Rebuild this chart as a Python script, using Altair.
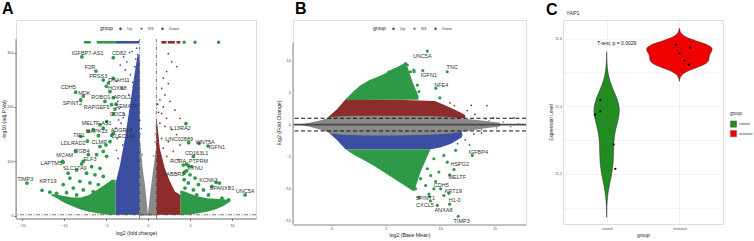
import altair as alt
import pandas as pd

FONT = "Liberation Sans"
RED, BLUE, GREY, GREEN = "#8E2B2B", "#3B4EA2", "#8A8A8A", "#2E9A47"
CTRL, RES = "#228B22", "#EE0000"

# ================= Panel A : volcano =================
A_ns_x = [-1.0, -0.95, -0.6, -0.36, -0.12, 0.0, 0.24, 0.6, 0.95, 1.0]
A_ns_top = [132, 140, 82, 57, 20, 3, 38, 82, 122, 116]

A_down_x = [-3.85, -3.33, -2.74, -2.14, -1.55, -1.19, -1.0]
A_down_top = [60, 93, 142, 203, 265, 300, 285]

A_up_x = [1.0, 1.1, 1.4, 2.0, 2.6, 3.2, 3.85]
A_up_top = [176, 170, 124, 87, 63, 44, 38]

A_fanL_x = [-11.5, -11.0, -10.0, -9.0, -8.0, -7.0, -6.0, -5.0, -4.3, -3.85]
A_fanL_lo = [37, 33, 24, 17, 11, 7, 4, 2, 1.3, 1.3]
A_fanL_hi = [39, 39, 36, 33, 33, 38, 48, 58, 66, 66]

A_fanR_x = [3.85, 4.4, 5.0, 6.0, 7.0, 8.0, 9.0, 9.8]
A_fanR_lo = [1.3, 1.3, 2, 4, 7, 11, 18, 26]
A_fanR_hi = [46, 44, 40, 35, 32, 31, 30, 28]

A_dn_sx = [-2.9, -2.5, -1.9, -1.35, -3.3, -2.7, -2.1, -1.55, -3.7, -3.1, -2.3, -1.75, -3.6, -3.4,
           -2.8, -1.6, -1.3, -3.5, -3.8, -3.2, -2.6, -2.0, -3.65, -3.0, -2.45, -1.2, -1.45, -2.2,
           -1.8, -1.25, -3.75, -3.55, -2.95]
A_dn_sy = [292, 283, 302, 308, 277, 268, 259, 274, 247, 234, 222, 237, 210, 197, 185, 204, 216,
           176, 161, 170, 155, 167, 142, 130, 139, 296, 288, 300, 245, 262, 120, 105, 180]

A_up_sx = [2.42, 2.82, 3.41, 2.22, 1.82, 2.42, 1.63, 2.02, 1.42, 2.62, 1.82, 3.21, 1.62, 2.22,
           3.81, 1.42, 2.02, 2.82, 3.41, 1.62, 2.42, 3.81, 1.82, 3.01, 2.22, 3.61, 1.25, 1.15]
A_up_sy = [298, 283, 274, 265, 253, 243, 234, 222, 213, 210, 200, 194, 188, 179, 179, 170, 164,
           158, 149, 142, 136, 130, 124, 118, 109, 103, 190, 205]

A_ns_sx = [-0.9, -0.8, -0.97, 0.85, 0.92, 0.7, -0.7, 0.97]
A_ns_sy = [150, 160, 175, 135, 150, 110, 112, 165]

# saturated (capped) top row of points, drawn as short bars
A_satG_x1 = [-7.6, -6.1]
A_satG_x2 = [-6.8, -3.85]
A_satD_x1 = [-3.85]
A_satD_x2 = [-1.05]
A_satU_x1 = [1.6, 2.35, 3.4]
A_satU_x2 = [2.2, 3.2, 3.85]
A_sat_y = 319
A_satdot_x = [4.3, 5.6, 8.4]

A_grn_x = [-4.52, -5.12, -4.33, -4.92, -5.71, -6.51, -7.1, -4.52, -5.71, -5.32, -7.1, -6.11,
           -4.92, -7.7, -6.7, -5.71, -8.49, -7.3, -6.31, -5.32, -9.29, -8.1, -6.9, -5.91,
           -10.08, -8.89, -7.7, -6.51, -10.87, -9.68, -8.49, -11.67,
           4.6, 5.2, 4.4, 5.0, 4.3, 5.6, 4.8, 6.0, 4.4, 5.4, 6.6, 4.2, 7.6, 7.2, 5.8, 8.8, 9.6]
A_grn_y = [228, 210, 204, 173, 167, 158, 155, 136, 127, 118, 112, 112, 109, 99.6, 90, 87, 84,
           78, 75, 72, 69, 63, 60, 57, 57, 50.5, 47, 44, 41, 42, 38, 43,
           94.6, 90, 81, 75, 66, 69, 60, 57, 50.5, 47, 47, 38, 53.6, 38, 38, 32, 29]

A_gene = ["IGFBP7-AS1", "CD82", "F2R", "PRSS3", "DNAH11", "HOXB8", "CDH5", "MDK", "SPINT2",
          "ROBO1", "APOL1", "RAPGEF5", "SEMA7A", "COC8", "MELTF-AS1", "MAPK13", "ADGRL4",
          "TIE1", "CLEC14A", "LDLRAD2", "CLMP", "ITGB4", "MCAM", "ELF3", "LAPTM5", "SLC17A9",
          "TIMP3", "KRT19", "IL13RA2", "LINC02889", "WNT5A", "IGFN1", "CD163L1", "PTPRM",
          "RORA", "KYNU", "GABBR2", "KCNK3", "SPANXB1", "UNC5A"]
A_gene_x = [-7.86, -4.13, -6.19, -5.32, -4.13, -4.95, -8.6, -7.7, -8.0, -4.7, -4.13, -3.8, -3.93,
            -4.1, -5.32, -5.9, -4.13, -7.98, -4.3, -7.2, -5.0, -8.6, -10.15, -7.9, -10.1, -9.5,
            -14.4, -12.6, 4.52, 4.84, 6.07, 7.14, 5.4, 4.8, 4.2, 4.6, 4.3, 8.1, 8.5, 11.55]
A_gene_y = [292, 290.6, 266, 249.5, 252.6, 238, 227, 220, 213, 244, 217, 205, 196, 187, 160.7,
            147, 151.6, 145.5, 148, 137, 130, 118, 99.5, 95, 98, 78, 59.7, 46.3, 169, 134, 133,
            128, 108.7, 92, 93, 82, 78, 61, 59.7, 38]
A_lab_x = [-7.18, -3.45, -6.9, -5.92, -3.45, -3.65, -9.49, -7.58, -9.0, -5.6, -3.06, -6.1, -2.54,
           -3.65, -6.1, -6.1, -3.13, -8.2, -2.94, -8.9, -5.8, -7.9, -9.9, -6.9, -11.5, -8.7,
           -14.6, -11.9, 3.8, 3.7, 6.8, 8.2, 5.8, 6.0, 3.6, 5.6, 3.0, 7.2, 8.8, 11.55]
A_lab_y = [300, 298.5, 274, 257.6, 249.5, 234, 237, 225, 208, 219, 219, 199, 202, 187, 170, 155,
           157.6, 148.4, 145.5, 133, 135, 118, 110.6, 104, 96.5, 87, 67.6, 62.8, 161, 141, 136,
           126, 116, 100.7, 100.7, 87, 76, 66, 50.5, 45.5]

# ================= Panel B : MA plot =================
B_band_x = [-2.85, -2.0, -1.0, 0.0, 1.0, 3.0, 6.0, 9.0, 11.0, 12.5, 14.0, 15.5]
B_band_top = [0.05, 0.3, 0.7, 1.2, 1.35, 1.4, 1.4, 1.35, 1.2, 0.9, 0.6, 0.3]
B_band_bot = [-0.05, -0.35, -0.8, -1.4, -1.6, -1.7, -1.7, -1.6, -1.4, -1.0, -0.6, -0.3]

B_up_x = [-0.3, 0.5, 1.3, 3.0, 6.0, 8.0, 9.5, 10.5, 11.5, 12.3]
B_up_top = [1.2, 2.4, 4.0, 4.0, 3.9, 3.8, 3.7, 3.0, 2.2, 1.5]
B_up_bot = [1.0] * 10

B_dn_x = [-0.3, 0.5, 1.3, 3.0, 6.0, 9.0, 10.0, 11.0, 12.0]
B_dn_top = [-1.0] * 9
B_dn_bot = [-1.2, -2.4, -3.9, -3.9, -3.9, -3.9, -3.6, -3.0, -2.0]

B_gu_x = [1.3, 2.0, 2.67, 3.5, 4.2, 5.0, 5.43, 6.0, 6.66, 7.0, 7.5, 8.0]
B_gu_top = [4.0, 5.2, 6.2, 7.0, 7.5, 8.1, 8.6, 9.0, 9.6, 9.0, 6.5, 4.5]
B_gu_bot = [3.9] * 12

B_gl_x = [1.3, 2.0, 3.0, 4.0, 5.0, 6.0, 7.0, 7.6, 8.2, 9.1]
B_gl_top = [-3.9] * 10
B_gl_bot = [-3.9, -4.7, -5.6, -6.6, -7.7, -8.8, -9.9, -10.5, -7.4, -3.9]

B_grn_x = [5.28, 6.2, 6.8, 5.9, 6.66, 7.27, 7.6, 5.74, 6.5, 7.27, 6.2, 6.97, 7.9, 8.04, 5.43,
           7.58, 7.58, 6.97, 9.97,
           9.42, 10.34, 11.42, 8.81, 9.88, 9.12, 8.2, 10.65, 8.66, 7.73, 9.42, 8.04, 8.96, 10.34, 9.58]
B_grn_y = [8.3, 8.6, 9.6, 7.3, 7.3, 8.3, 8.3, 6.2, 5.9, 5.7, 4.9, 4.6, 6.2, 5.2, 5.2, 4.4, 8.57,
           9.36, 4.2,
           -5.36, -4.84, -4.05, -6.94, -7.46, -8.0, -8.5, -5.9, -9.57, -10.1, -10.1, -11.4, -10.9,
           -11.15, -8.94]

B_sc_x = [12.86, 14.3, 11.3, 10.5, 11.8, 13.2, 14.9, 16.8, 12.5, 10.9,
          12.3, 11.6, 12.0, 13.1, 11.2, 12.7, 13.8,
          14.5, 15.2, 15.8, 16.5, 13.8, 14.2, 17.2]
B_sc_y = [3.04, 3.0, 3.0, 2.5, 1.8, 1.6, 1.05, 1.05, 2.2, 3.4,
          -2.4, -3.0, -1.6, -1.5, -2.2, -3.2, -1.3,
          0.6, -0.5, 0.4, -0.3, -0.8, 0.9, 0.1]
B_sc_g = ["Up"] * 10 + ["Down"] * 7 + ["NS"] * 7

B_gene = ["UNC5A", "TNC", "IGFN1", "NFE4", "IGFBP4", "HSPG2", "MELTF", "CDH5", "KRT19",
          "SPINT1", "H1-0", "CXCL5", "ANXA8", "TIMP3"]
B_gene_x = [8.81, 10.65, 8.4, 9.6, 12.95, 11.27, 10.87, 10.04, 10.8, 9.0, 10.87, 9.1, 9.73, 11.66]
B_gene_y = [11.56, 8.3, 8.5, 5.7, -4.84, -7.05, -7.9, -10.1, -10.8, -11.3, -12.5, -12.0, -12.7, -14.4]
B_lab_x = [8.35, 11.11, 8.96, 10.1, 13.5, 11.8, 11.57, 10.1, 11.2, 8.63, 11.33, 8.6, 10.3, 11.97]
B_lab_y = [10.77, 9.0, 7.78, 6.3, -4.3, -6.26, -8.25, -9.46, -10.5, -11.5, -11.83, -12.7, -13.4, -15.1]

# ================= Panel C : violin =================
C_ctrl = [11.418, 11.385, 11.375, 11.287, 11.215]
C_ctrl_pos = [0.913, 0.913, 0.84, 1.096, 1.12]
C_res = [11.582, 11.573, 11.556, 11.535, 11.523]
C_res_pos = [1.954, 2.15, 2.0, 2.07, 2.13]
C_bw = [0.0477, 0.01625]

# ----------------------------------------------------
def df(**kw):
    return pd.DataFrame(kw)

base_axis = dict(grid=False, labelFontSize=3.8, labelColor="#4d4d4d", titleFontSize=5.2,
                 titleFontWeight="normal", titleColor="#222222", labelFont=FONT, titleFont=FONT)

def area(d, color, X, Y):
    return alt.Chart(d).mark_area(color=color).encode(x=X("x"), y=Y("top"), y2=alt.Y2("bot"))

def legend_grp(lx, ly):
    return alt.Legend(orient="none", legendX=lx, legendY=ly, direction="horizontal",
                      title="group", titleOrient="left", symbolType="circle",
                      symbolSize=7, labelFontSize=4, titleFontSize=5,
                      titleFontWeight="normal", labelColor="#444", titleColor="#222",
                      columnPadding=6, labelFont=FONT, titleFont=FONT)

# ---------- Panel A ----------
A_xs = alt.Scale(domain=[-15.7, 12.85], nice=False, zero=False)
A_ys = alt.Scale(domain=[-5.5, 360], nice=False, zero=False)
A_xa = alt.Axis(values=[-15, -10, -5, 0, 5, 10], title="log2 (fold change)", domainColor="#333",
                domainWidth=0.6, tickColor="#333", tickWidth=0.6, tickSize=2, labelPadding=2.5,
                titlePadding=3.5, **base_axis)
A_ya = alt.Axis(values=[0, 100, 200, 300], title="-log10 (adj.P.Val)", domain=False,
                tickColor="#333", tickWidth=0.6, tickSize=2, labelPadding=1,
                titlePadding=0.5, **base_axis)

def AX(f):
    return alt.X(f, type="quantitative", scale=A_xs, axis=A_xa)

def AY(f):
    return alt.Y(f, type="quantitative", scale=A_ys, axis=A_ya)

def sat_bars(x1, x2, color):
    return alt.Chart(df(x=x1, x2=x2, y=[A_sat_y] * len(x1))).mark_rule(strokeWidth=2.6, color=color).encode(
        x=AX("x"), x2="x2", y=AY("y"))

A_layers = [
    area(df(x=A_fanL_x, top=A_fanL_hi, bot=A_fanL_lo), GREEN, AX, AY),
    area(df(x=A_fanR_x, top=A_fanR_hi, bot=A_fanR_lo), GREEN, AX, AY),
    area(df(x=A_down_x, top=A_down_top, bot=[1.3] * len(A_down_x)), BLUE, AX, AY),
    area(df(x=A_up_x, top=A_up_top, bot=[1.3] * len(A_up_x)), RED, AX, AY),
    area(df(x=A_ns_x, top=A_ns_top, bot=[0] * len(A_ns_x)), GREY, AX, AY),
    alt.Chart(df(x=A_dn_sx + A_up_sx + A_ns_sx, y=A_dn_sy + A_up_sy + A_ns_sy,
                 g=["Down"] * len(A_dn_sx) + ["Up"] * len(A_up_sx) + ["NS"] * len(A_ns_sx)))
    .mark_circle(size=3, opacity=1).encode(
        x=AX("x"), y=AY("y"),
        color=alt.Color("g:N", scale=alt.Scale(domain=["Up", "NS", "Down"], range=[RED, GREY, BLUE]),
                        legend=legend_grp(84, 6))),
    sat_bars(A_satG_x1, A_satG_x2, GREEN),
    sat_bars(A_satD_x1, A_satD_x2, BLUE),
    sat_bars(A_satU_x1, A_satU_x2, RED),
    alt.Chart(df(x=A_satdot_x, y=[A_sat_y] * len(A_satdot_x))).mark_circle(size=12, color=GREEN, opacity=1).encode(
        x=AX("x"), y=AY("y")),
    alt.Chart(df(x=A_grn_x, y=A_grn_y)).mark_circle(size=14, color=GREEN, opacity=1).encode(
        x=AX("x"), y=AY("y")),
    alt.Chart(df(x=A_gene_x, y=A_gene_y)).mark_circle(size=14, color=GREEN, opacity=1).encode(
        x=AX("x"), y=AY("y")),
    alt.Chart(df(x=A_lab_x, y=A_lab_y, t=A_gene)).mark_text(fontSize=5.5, color="#333", font=FONT).encode(
        x=AX("x"), y=AY("y"), text="t:N"),
    alt.Chart(df(x=[-1, 1], y=[-5.5, -5.5], y2=[325, 325])).mark_rule(
        color="#222", strokeWidth=0.6, strokeDash=[4, 1.5, 1, 1.5]).encode(x=AX("x"), y=AY("y"), y2="y2"),
    alt.Chart(df(y=[1.3])).mark_rule(color="#222", strokeWidth=0.6, strokeDash=[4, 1.5, 1, 1.5]).encode(y=AY("y")),
    alt.Chart(df(x=[-15.7], y=[-5.5], y2=[325])).mark_rule(color="#333", strokeWidth=0.6).encode(
        x=AX("x"), y=AY("y"), y2="y2"),
    alt.Chart(df(t=["A"])).mark_text(align="left", baseline="alphabetic", fontSize=16, fontWeight="bold",
                                     font=FONT, color="black").encode(x=alt.value(-14), y=alt.value(-6.5), text="t:N"),
]
panelA = alt.layer(*A_layers).properties(width=240, height=198.5)

# ---------- Panel B ----------
B_xs = alt.Scale(domain=[-3.55, 17.9], nice=False, zero=False)
B_ys = alt.Scale(domain=[-15.7, 16.44], nice=False, zero=False)
B_xa = alt.Axis(values=[0, 5, 10, 15], title="log2 (Base Mean)", domainColor="#b3b3b3", domainWidth=1.6,
                tickColor="#b3b3b3", tickWidth=0.6, tickSize=1.5, labelPadding=0.8, titlePadding=1.5, **base_axis)
B_ya = alt.Axis(values=[-15, -10, -5, 0, 5, 10], title="log2 (Fold Change)", domain=False,
                tickColor="#b3b3b3", tickWidth=0.6, tickSize=1.5, labelPadding=1.2,
                titlePadding=2.5, **base_axis)

def BX(f):
    return alt.X(f, type="quantitative", scale=B_xs, axis=B_xa)

def BY(f):
    return alt.Y(f, type="quantitative", scale=B_ys, axis=B_ya)

B_layers = [
    area(df(x=B_up_x, top=B_up_top, bot=B_up_bot), RED, BX, BY),
    area(df(x=B_dn_x, top=B_dn_top, bot=B_dn_bot), BLUE, BX, BY),
    area(df(x=B_gu_x, top=B_gu_top, bot=B_gu_bot), GREEN, BX, BY),
    area(df(x=B_gl_x, top=B_gl_top, bot=B_gl_bot), GREEN, BX, BY),
    area(df(x=B_band_x, top=B_band_top, bot=B_band_bot), GREY, BX, BY),
    alt.Chart(df(x=B_sc_x, y=B_sc_y, g=B_sc_g)).mark_circle(size=3, opacity=1).encode(
        x=BX("x"), y=BY("y"),
        color=alt.Color("g:N", scale=alt.Scale(domain=["Up", "NS", "Down"], range=[RED, GREY, BLUE]),
                        legend=legend_grp(80, 6))),
    alt.Chart(df(x=B_grn_x, y=B_grn_y)).mark_circle(size=10, color=GREEN, opacity=1).encode(
        x=BX("x"), y=BY("y")),
    alt.Chart(df(x=B_gene_x, y=B_gene_y)).mark_circle(size=10, color=GREEN, opacity=1).encode(
        x=BX("x"), y=BY("y")),
    alt.Chart(df(y=[1, -1])).mark_rule(color="#111", strokeWidth=1, strokeDash=[4, 2.5]).encode(y=BY("y")),
    alt.Chart(df(y=[0])).mark_rule(color="#4a4a4a", strokeWidth=1.8).encode(y=BY("y")),
    alt.Chart(df(x=[-3.55], y=[-15.7], y2=[12.9])).mark_rule(color="#b3b3b3", strokeWidth=1.6).encode(
        x=BX("x"), y=BY("y"), y2="y2"),
    alt.Chart(df(x=B_lab_x, y=B_lab_y, t=B_gene)).mark_text(fontSize=5.5, color="#333", font=FONT).encode(
        x=BX("x"), y=BY("y"), text="t:N"),
    alt.Chart(df(t=["B"])).mark_text(align="left", baseline="alphabetic", fontSize=16, fontWeight="bold",
                                     font=FONT, color="black").encode(x=alt.value(2), y=alt.value(-6.5), text="t:N"),
]
panelB = alt.layer(*B_layers).properties(width=233, height=204.5)

# ---------- Panel C ----------
C_xs = alt.Scale(domain=[0.4, 2.6], nice=False, zero=False)
C_ys = alt.Scale(domain=[11.052, 11.655], nice=False, zero=False)
C_xa = alt.Axis(values=[1, 2], labelExpr="datum.value == 1 ? 'control' : 'resistant'", title="group",
                grid=True, gridColor="#ebebeb", gridWidth=0.7, domain=False, ticks=False, labelPadding=2,
                titlePadding=2.5, labelFontSize=3.6, labelColor="#4d4d4d", titleFontSize=5,
                titleFontWeight="normal", titleColor="#222", labelFont=FONT, titleFont=FONT)
C_ya = alt.Axis(values=[11.1, 11.2, 11.3, 11.4, 11.5, 11.6],
                labelExpr="(round(datum.value*10) % 2 == 0) ? format(datum.value, '.1f') : ''",
                title="Expression Level", grid=True, gridColor="#ebebeb", gridWidth=0.6, domain=False,
                ticks=False, labelPadding=1.5, titlePadding=1.5, labelFontSize=3.6, labelColor="#4d4d4d",
                titleFontSize=4.8, titleFontWeight="normal", titleColor="#222", labelFont=FONT, titleFont=FONT)

VSCALE = 0.45 / 12.54
C_fill = alt.Fill("g:N", scale=alt.Scale(domain=["control", "resistant"], range=[CTRL, RES]),
                  legend=alt.Legend(orient="none", legendX=167, legendY=91, title="group",
                                    symbolType="square", symbolSize=40, symbolStrokeColor="#666",
                                    symbolStrokeWidth=0.5, labelFontSize=3.6, titleFontSize=4.6,
                                    titleFontWeight="normal", labelColor="#333", titleColor="#222",
                                    rowPadding=0.5, labelOffset=2, labelFont=FONT, titleFont=FONT))

def violin(vals, center, bw, name):
    ext = [min(vals) - 3 * bw, max(vals) + 3 * bw]
    return (alt.Chart(df(v=vals)).transform_density("v", as_=["value", "density"], bandwidth=bw,
                                                     extent=ext, steps=200)
            .transform_calculate(left=f"{center} - datum.density*{VSCALE}",
                                 right=f"{center} + datum.density*{VSCALE}", g=f"'{name}'")
            .mark_area(orient="horizontal", stroke="#222", strokeWidth=0.5)
            .encode(y=alt.Y("value:Q", scale=C_ys, axis=C_ya),
                    x=alt.X("left:Q", scale=C_xs, axis=C_xa), x2="right:Q", fill=C_fill))

C_layers = [
    violin(C_ctrl, 1, C_bw[0], "control"),
    violin(C_res, 2, C_bw[1], "resistant"),
    alt.Chart(df(x=C_ctrl_pos + C_res_pos, y=C_ctrl + C_res)).mark_circle(size=5, color="black", opacity=1)
    .encode(x=alt.X("x:Q", scale=C_xs, axis=C_xa), y=alt.Y("y:Q", scale=C_ys, axis=C_ya)),
    alt.Chart(df(x=[1.14], y=[11.587], t=["T-test, p = 0.0029"])).mark_text(fontSize=5, color="#111", font=FONT)
    .encode(x=alt.X("x:Q", scale=C_xs, axis=C_xa), y=alt.Y("y:Q", scale=C_ys, axis=C_ya), text="t:N"),
    alt.Chart(df(t=["C"])).mark_text(align="left", baseline="alphabetic", fontSize=16, fontWeight="bold",
                                     font=FONT, color="black").encode(x=alt.value(-17), y=alt.value(-5.5), text="t:N"),
    alt.Chart(df(t=["YAP1"])).mark_text(align="left", baseline="middle", fontSize=5.5,
                                        font=FONT, color="#222").encode(x=alt.value(3), y=alt.value(-7), text="t:N"),
]
panelC = alt.layer(*C_layers).properties(width=160, height=204)

chart = alt.hconcat(panelA, panelB, panelC, spacing=37, bounds="flush").resolve_scale(
    color="independent", fill="independent").properties(
    padding={"left": 0, "top": 0, "right": 0, "bottom": 0}, background="white"
).configure_view(stroke=None).configure(font=FONT)

chart.save("out.html", embed_options={"renderer": "svg", "actions": False})
